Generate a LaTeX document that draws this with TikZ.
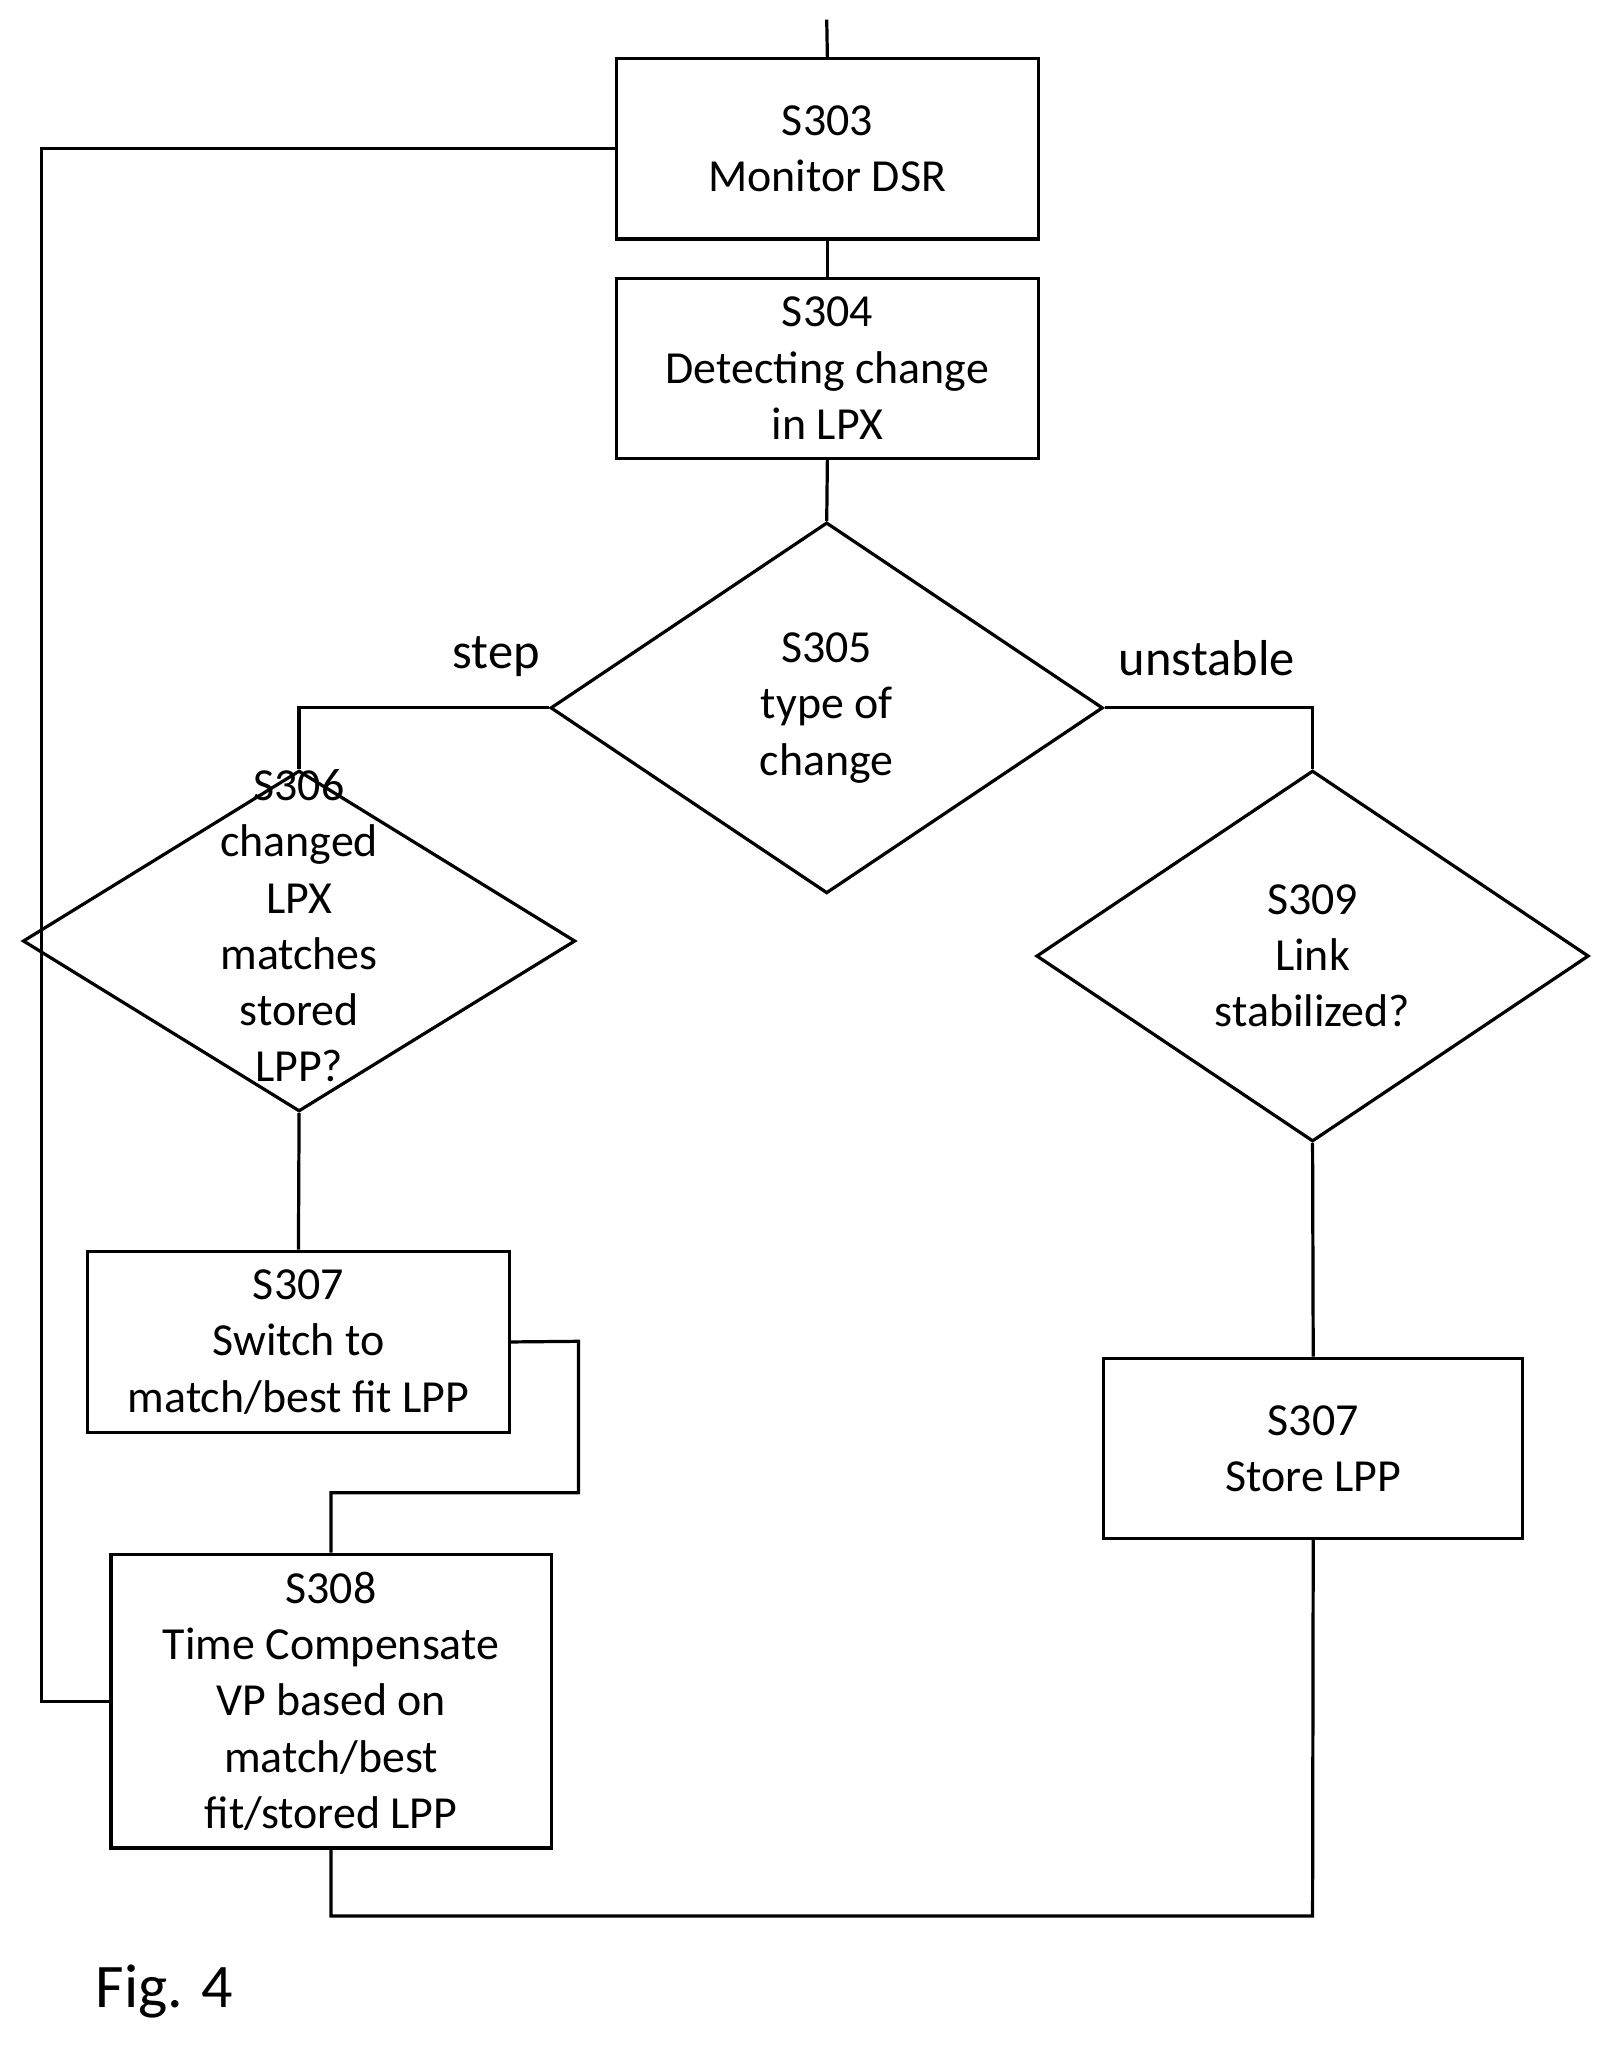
\documentclass[tikz,border=0pt]{standalone}
\usepackage{fontspec}
\setmainfont{Carlito}
\usetikzlibrary{shapes.geometric}
\begin{document}
\begin{tikzpicture}[x=0.02cm,y=-0.02cm,
  box/.style={draw,line width=1.4pt,inner sep=0,align=center},
  dia/.style={draw,line width=1.4pt,shape=diamond,inner sep=0,minimum width=423*0.02cm,minimum height=284*0.02cm},
  txt/.style={align=center,font=\fontsize{20}{24.5}\selectfont},
  ln/.style={line width=1.4pt}]
\useasboundingbox (0,0) rectangle (1240,1575);
\node[box,minimum width=323*0.02cm,minimum height=138*0.02cm] (s303) at (633.5,114) {};
\node[txt] at (s303) {S303\\Monitor DSR};
\node[box,minimum width=323*0.02cm,minimum height=138*0.02cm] (s304) at (633.5,282) {};
\node[txt] at (s304) {S304\\Detecting change\\in LPX};
\node[dia] (s305) at (633,542) {};
\node[txt] at (633,542) {S305\\type of\\change};
\node[dia,minimum height=261*0.02cm] (s306) at (229,720.5) {};
\node[txt] at (229,709) {S306\\changed\\LPX\\matches\\stored\\LPP?};
\node[dia] (s309) at (1005,732) {};
\node[txt] at (1005,732) {S309\\Link\\stabilized?};
\node[box,minimum width=323*0.02cm,minimum height=139*0.02cm] (s307) at (228.5,1027.5) {};
\node[txt] at (s307) {S307\\Switch to\\match/best fit LPP};
\node[box,minimum width=321*0.02cm,minimum height=138*0.02cm] (s307b) at (1005.5,1109) {};
\node[txt] at (s307b) {S307\\Store LPP};
\node[box,minimum width=337*0.02cm,minimum height=225*0.02cm] (s308) at (253.5,1302.5) {};
\node[txt] at (s308) {S308\\Time Compensate\\VP based on\\match/best\\fit/stored LPP};
\coordinate (top) at (633,15);
\draw[ln] (top) -- (s303.north);
\draw[ln] (s303) -- (s304);
\draw[ln] (s304.south) -- (s305.north);
\draw[ln] (s305.west) -| (s306.north);
\draw[ln] (s305.east) -| (s309.north);
\draw[ln] (s306.south) -- (s307.north);
\draw[ln] (s309.south) -- (s307b.north);
\draw[ln] (s307.east) -- (443,1027) -- (443,1143) -| (s308.north);
\draw[ln] (s307b.south) -- (1005,1467) -| (s308.south);
\draw[ln] (s303.west) -- (32,114) |- (s308.west);
\node[txt,anchor=south,font=\fontsize{22}{26}\selectfont] at (380,524) {step};
\node[txt,anchor=south,font=\fontsize{22}{26}\selectfont] at (924,524) {unstable};
\node[font=\fontsize{27}{32}\selectfont] at (126,1525) {Fig. 4};
\end{tikzpicture}
\end{document}
